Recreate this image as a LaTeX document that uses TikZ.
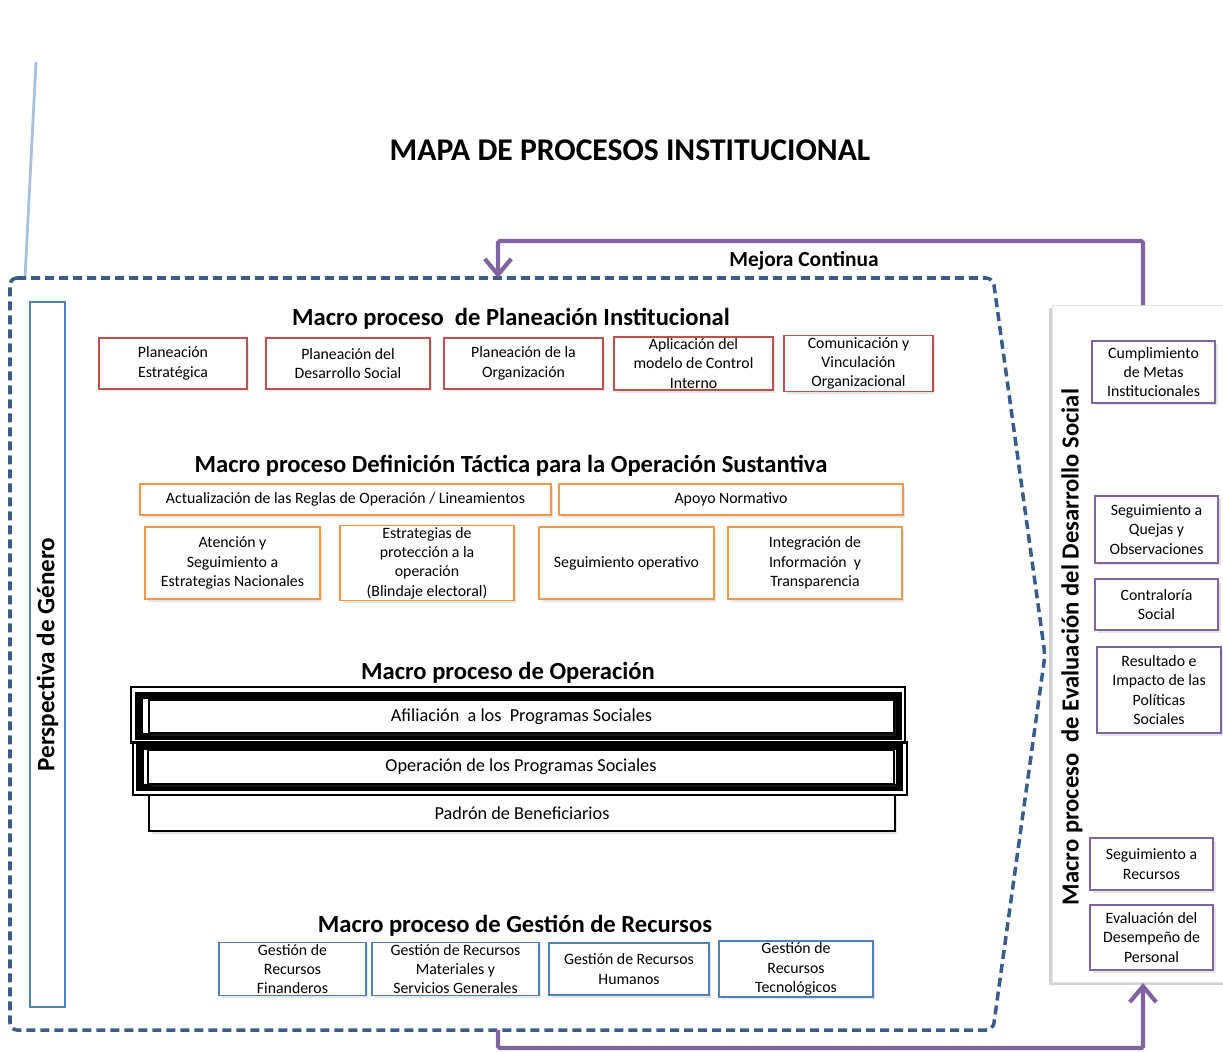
\documentclass[tikz,border=0pt]{standalone}
\usepackage{fontspec}
\setmainfont{Carlito}
\usetikzlibrary{positioning}
\usetikzlibrary{shadows}
\usetikzlibrary{arrows.meta}
\usepackage{xcolor}
\definecolor{rojo}{RGB}{192,80,77}
\definecolor{naranja}{RGB}{247,150,70}
\definecolor{azul}{RGB}{79,129,189}
\definecolor{morado}{RGB}{128,100,162}
\definecolor{marino}{RGB}{56,93,138}

\begin{document}
\begin{tikzpicture}[
	x=0.02cm, y=-0.02cm,
	bx/.style = {rectangle, fill=white, line width=0.8pt, align=center, inner sep=1pt, font=\fontsize{9}{11}\selectfont, drop shadow={opacity=0.2, shadow xshift=0.05cm, shadow yshift=-0.05cm}},
	pl/.style = {bx, draw=rojo,		minimum height=1.02cm},
	dt/.style = {bx, draw=naranja},
	opb/.style = {bx, draw=black, font=\fontsize{10.4}{12}\selectfont},
	gr/.style = {bx, draw=azul,		minimum height=1.04cm},
	ev/.style = {bx, draw=morado,	minimum width=2.46cm},
	hd/.style = {font=\bfseries\fontsize{14}{16}\selectfont},
	fino/.style = {black, line width=0.7pt},
	grueso/.style = {black, line width=4pt},
	ar/.style = {morado, line width=2.4pt, -{Straight Barb[length=9pt, width=15pt]}},
	dsh/.style = {marino, line width=2pt, dash pattern=on 0.18cm off 0.1cm, rounded corners=4pt}
	]
	\useasboundingbox (0,0) rectangle (1223,1051);
	
	% === === Frame === ===
	\draw[azul!70, line width=1.6pt, opacity=0.7]	(36,62) -- (25,278);
	\draw[dsh]	(10,278) -- (993,278) -- (1045,655) -- (993,1030) -- (10,1030) -- cycle;
	
	\node[rectangle, draw=gray!20, fill=white, minimum width=3.48cm, minimum height=13.54cm,
		drop shadow={opacity=0.35, shadow xshift=-0.06cm, shadow yshift=-0.06cm}]	(panel)	at	(1139, 643.5)	{};
	
	% === === Titles === ===
	\node[font=\bfseries\fontsize{18}{21}\selectfont]	(title)	at	(630, 150)	{MAPA DE PROCESOS INSTITUCIONAL};
	\node[font=\bfseries\fontsize{12.2}{14}\selectfont]	(mj)	at	(804, 261)	{Mejora Continua};
	\node[hd]	(h1)	at	(511, 319)	{Macro proceso~ de Planeación Institucional};
	\node[hd]	(h2)	at	(511, 466)	{Macro proceso Definición Táctica para la Operación Sustantiva};
	\node[hd]	(h3)	at	(508, 673)	{Macro proceso de Operación};
	\node[hd]	(h4)	at	(515, 926)	{Macro proceso de Gestión de Recursos};
	
	\node[rectangle, draw=azul, line width=0.8pt, rotate=90, minimum width=14.1cm, minimum height=0.7cm,
		font=\bfseries\fontsize{14.3}{16}\selectfont]	(pg)	at	(47.5, 654.5)	{Perspectiva de Género};
	\node[rotate=90, font=\bfseries\fontsize{14}{16}\selectfont]	(evt)	at	(1072, 647)	{Macro proceso~ de Evaluación del Desarrollo Social};
	
	% === === Planeacion === ===
	\node[pl, minimum width=2.96cm]	(pl1)	at	(173, 363.5)	{Planeación\\Estratégica};
	\node[pl, minimum width=3.28cm]	(pl2)	at	(348, 363.5)	{Planeación del\\Desarrollo Social};
	\node[pl, minimum width=3.18cm]	(pl3)	at	(523.5, 363.5)	{Planeación de la\\Organización};
	\node[pl, minimum width=3.18cm]	(pl4)	at	(693.5, 363.5)	{Aplicación del\\modelo de Control\\Interno};
	\node[pl, minimum width=2.98cm]	(pl5)	at	(858.5, 363.5)	{Comunicación y\\Vinculación\\Organizacional};
	
	% === === Definicion tactica === ===
	\node[dt, minimum width=8.22cm, minimum height=0.62cm]	(dt1)	at	(345.5, 499.5)	{Actualización de las Reglas de Operación / Lineamientos};
	\node[dt, minimum width=6.88cm, minimum height=0.62cm]	(dt2)	at	(731, 499.5)	{Apoyo Normativo};
	\node[dt, minimum width=3.5cm, minimum height=1.44cm]	(dt3)	at	(232.5, 563)	{Atención y\\Seguimiento a\\Estrategias Nacionales};
	\node[dt, minimum width=3.48cm, minimum height=1.44cm]	(dt4)	at	(427, 563)	{Estrategias de\\protección a la\\operación\\(Blindaje electoral)};
	\node[dt, minimum width=3.5cm, minimum height=1.44cm]	(dt5)	at	(626.5, 563)	{Seguimiento operativo};
	\node[dt, minimum width=3.48cm, minimum height=1.44cm]	(dt6)	at	(815, 563)	{Integración de\\Información~ y\\Transparencia};
	
	% === === Operacion === ===
	\draw[fino]		(131, 687) rectangle (905, 743);
	\draw[grueso]	(139, 695.5) rectangle (898.5, 736.5);
	\draw[fino]		(133, 742) rectangle (907, 795);
	\draw[grueso]	(140, 746.5) rectangle (899, 787.5);
	\node[opb, minimum width=14.9cm, minimum height=0.66cm]	(af)	at	(521.5, 716.5)	{Afiliación~ a los~ Programas Sociales};
	\node[opb, minimum width=14.92cm, minimum height=0.68cm]	(op)	at	(521, 767)	{Operación de los Programas Sociales};
	\node[opb, minimum width=14.92cm, minimum height=0.72cm]	(pb)	at	(522, 813)	{Padrón de Beneficiarios};
	
	% === === Gestion de recursos === ===
	\node[gr, minimum width=2.94cm]	(gr1)	at	(292.5, 969)	{Gestión de\\Recursos\\Finanderos};
	\node[gr, minimum width=3.34cm]	(gr2)	at	(455.5, 969)	{Gestión de Recursos\\Materiales y\\Servicios Generales};
	\node[gr, minimum width=3.2cm]	(gr3)	at	(629, 969)	{Gestión de Recursos\\Humanos};
	\node[gr, minimum width=3.08cm]	(gr4)	at	(796, 969)	{Gestión de\\Recursos\\Tecnológicos};
	
	% === === Evaluacion === ===
	\node[ev, minimum height=1.24cm]	(ev1)	at	(1153.5, 372)	{Cumplimiento\\de Metas\\Institucionales};
	\node[ev, minimum height=1.34cm]	(ev2)	at	(1156.5, 529.5)	{Seguimiento a\\Quejas y\\Observaciones};
	\node[ev, minimum height=1.02cm]	(ev3)	at	(1156.5, 604.5)	{Contraloría\\Social};
	\node[ev, minimum width=2.48cm, minimum height=1.72cm]	(ev4)	at	(1159, 690)	{Resultado e\\Impacto de las\\Políticas\\Sociales};
	\node[ev, minimum height=1.04cm]	(ev5)	at	(1151.5, 864)	{Seguimiento a\\Recursos};
	\node[ev, minimum height=1.3cm]	(ev6)	at	(1151.5, 937.5)	{Evaluación del\\Desempeño de\\Personal};
	
	% === === Lines === ===
	\coordinate	(evtop)	at	(1143, 305);
	\coordinate	(evbot)	at	(1143, 983);
	\coordinate	(mjtop)	at	(498, 278);
	\coordinate	(mjbot)	at	(498, 1030);
	\draw[ar, rounded corners=1pt]	(evtop)	--	++(0, -64)	-|	(mjtop);
	\draw[ar, rounded corners=1pt]	(mjbot)	--	++(0, 18)	-|	(evbot);
	
\end{tikzpicture}
\end{document}
